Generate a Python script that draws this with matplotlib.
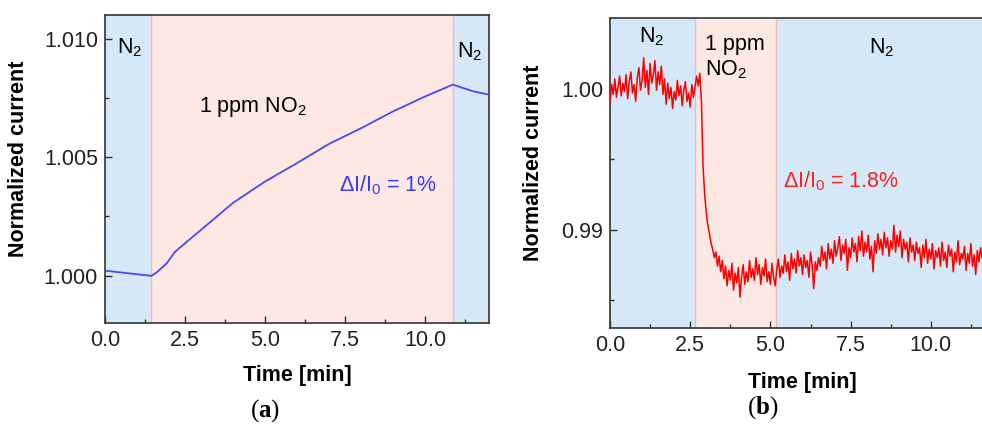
import numpy as np
import matplotlib
matplotlib.use("Agg")
import matplotlib.pyplot as plt

plt.rcParams['font.family'] = ['Liberation Sans', 'DejaVu Sans']
plt.rcParams['mathtext.fontset'] = 'custom'
plt.rcParams['mathtext.rm'] = 'Liberation Sans'
plt.rcParams['mathtext.it'] = 'Liberation Sans:italic'
plt.rcParams['mathtext.bf'] = 'Liberation Serif:bold'

# panel (a): current rises under NO2
time_a = [0.0, 1.45, 1.61, 1.93, 2.19, 3.0, 4.0, 5.0, 6.0, 7.0, 8.0, 9.0, 10.0, 10.87, 11.5, 12.0]
current_a = [1.00021, 0.99999, 1.00013, 1.00052, 1.00101, 1.00193, 1.00307, 1.00397,
             1.00475, 1.00556, 1.00622, 1.00693, 1.00756, 1.00806, 1.00778, 1.00764]
phases_a = [(0.0, 1.45, "N2"), (1.45, 10.87, "NO2"), (10.87, 12.0, "N2")]

# panel (b): current drops under NO2 (read every 0.05 min)
current_b = [
    0.9990, 1.0003, 0.9996, 1.0007, 0.9994, 1.0001, 1.0009, 0.9995, 1.0004, 0.9998,
    1.0010, 0.9993, 1.0005, 1.0012, 0.9997, 1.0003, 0.9991, 1.0008, 1.0015, 0.9999,
    1.0006, 1.0022, 1.0001, 1.0013, 0.9996, 1.0018, 1.0004, 1.0010, 1.0020, 0.9999,
    1.0012, 1.0003, 1.0016, 0.9996, 1.0007, 0.9989, 1.0004, 0.9993, 1.0001, 0.9986,
    0.9998, 0.9992, 1.0006, 0.9995, 1.0002, 0.9988, 0.9999, 1.0005, 0.9991, 0.9997,
    0.9987, 1.0003, 0.9994, 1.0001, 1.0009, 1.0002, 1.0011, 0.9990, 0.9945, 0.9925,
    0.9912, 0.9903, 0.9897, 0.9890, 0.9886, 0.9880, 0.9884, 0.9874, 0.9881, 0.9870,
    0.9878, 0.9865, 0.9874, 0.9860, 0.9871, 0.9864, 0.9876, 0.9857, 0.9869, 0.9862,
    0.9873, 0.9852, 0.9866, 0.9875, 0.9861, 0.9870, 0.9863, 0.9878, 0.9866, 0.9872,
    0.9864, 0.9880, 0.9868, 0.9875, 0.9861, 0.9873, 0.9867, 0.9879, 0.9863, 0.9870,
    0.9861, 0.9876, 0.9866, 0.9860, 0.9872, 0.9879, 0.9866, 0.9874, 0.9869, 0.9882,
    0.9870, 0.9877, 0.9864, 0.9883, 0.9872, 0.9879, 0.9869, 0.9885, 0.9874, 0.9880,
    0.9868, 0.9882, 0.9873, 0.9878, 0.9866, 0.9884, 0.9875, 0.9858, 0.9877, 0.9871,
    0.9880, 0.9874, 0.9888, 0.9878, 0.9884, 0.9872, 0.9890, 0.9879, 0.9886, 0.9876,
    0.9892, 0.9881, 0.9887, 0.9895, 0.9878, 0.9889, 0.9883, 0.9893, 0.9871, 0.9887,
    0.9880, 0.9894, 0.9884, 0.9890, 0.9877, 0.9895, 0.9885, 0.9899, 0.9881, 0.9891,
    0.9884, 0.9896, 0.9879, 0.9888, 0.9870, 0.9892, 0.9883, 0.9897, 0.9886, 0.9893,
    0.9882, 0.9898, 0.9887, 0.9894, 0.9881, 0.9892, 0.9886, 0.9903, 0.9884, 0.9896,
    0.9888, 0.9899, 0.9880, 0.9893, 0.9886, 0.9891, 0.9877, 0.9894, 0.9884, 0.9889,
    0.9878, 0.9891, 0.9883, 0.9887, 0.9873, 0.9889, 0.9880, 0.9893, 0.9876, 0.9886,
    0.9879, 0.9890, 0.9872, 0.9885, 0.9880, 0.9887, 0.9874, 0.9891, 0.9878, 0.9884,
    0.9873, 0.9889, 0.9881, 0.9886, 0.9870, 0.9884, 0.9877, 0.9892, 0.9875, 0.9883,
    0.9879, 0.9888, 0.9871, 0.9883, 0.9876, 0.9890, 0.9874, 0.9882, 0.9868, 0.9885,
    0.9877, 0.9887, 0.9880,
]
time_b = np.round(np.arange(len(current_b)) * 0.05, 2)
phases_b = [(0.0, 2.65, "N2"), (2.65, 5.16, "NO2"), (5.16, 12.0, "N2")]

N2_COLOR = "#d5e8f7"
NO2_COLOR = "#fde8e4"
EDGE = "#f3b9b9"
FS = 15.5

fig = plt.figure(figsize=(9.82, 4.28), dpi=100)
ax_a = fig.add_axes([0.1069, 0.2453, 0.3911, 0.7197])
ax_b = fig.add_axes([0.6212, 0.2336, 0.3920, 0.7234])


def shade(ax, phases):
    for start, end, gas in phases:
        ax.axvspan(start, end, color=N2_COLOR if gas == "N2" else NO2_COLOR, lw=0, zorder=0)
    for start, end, gas in phases[1:]:
        ax.axvline(start, color=EDGE, lw=1.0, zorder=1)


def style(ax, xlab_y, ylab_x):
    ax.tick_params(axis='both', which='major', direction='in', length=5, width=1,
                   labelsize=FS, pad=5, colors='#333333', labelcolor='#222222')
    ax.tick_params(axis='both', which='minor', direction='in', length=3, width=1, colors='#333333')
    for s in ax.spines.values():
        s.set_color('#333333')
        s.set_linewidth(1.2)
    ax.set_xlabel("Time [min]", fontsize=FS, fontweight='bold')
    ax.set_ylabel("Normalized current", fontsize=FS, fontweight='bold')
    ax.xaxis.set_label_coords(0.5, xlab_y)
    ax.yaxis.set_label_coords(ylab_x, 0.532)


# (a)
shade(ax_a, phases_a)
ax_a.plot(time_a, current_a, color="#4848ff", lw=1.3, zorder=3)
ax_a.set_xlim(0, 12)
ax_a.set_ylim(0.998, 1.011)
ax_a.set_xticks([0, 2.5, 5, 7.5, 10])
ax_a.set_xticks([1.25, 3.75, 6.25, 8.75, 11.25], minor=True)
ax_a.set_yticks([1.000, 1.005, 1.010])
ax_a.set_yticks([1.0025, 1.0075], minor=True)
ax_a.set_xticklabels(["0.0", "2.5", "5.0", "7.5", "10.0"])
ax_a.set_yticklabels(["1.000", "1.005", "1.010"])
style(ax_a, -0.136, -0.198)
ax_a.text(0.78, 1.0096, r"N$_2$", fontsize=FS, ha='center', va='center')
ax_a.text(11.4, 1.00945, r"N$_2$", fontsize=FS, ha='center', va='center')
ax_a.text(4.63, 1.00713, r"1 ppm NO$_2$", fontsize=FS, ha='center', va='center')
ax_a.text(8.85, 1.00383, r"ΔI/I$_0$ = 1%", fontsize=FS, ha='center', va='center', color="#3a3aff")

# (b)
shade(ax_b, phases_b)
ax_b.plot(time_b, current_b, color="#ff0000", lw=1.1, zorder=3)
ax_b.set_xlim(0, 12)
ax_b.set_ylim(0.983, 1.005)
ax_b.set_xticks([0, 2.5, 5, 7.5, 10])
ax_b.set_xticks([1.25, 3.75, 6.25, 8.75, 11.25], minor=True)
ax_b.set_yticks([0.99, 1.00])
ax_b.set_yticks([0.985, 0.995], minor=True)
ax_b.set_xticklabels(["0.0", "2.5", "5.0", "7.5", "10.0"])
ax_b.set_yticklabels(["0.99", "1.00"])
style(ax_b, -0.142, -0.171)
ax_b.text(1.31, 1.0037, r"N$_2$", fontsize=FS, ha='center', va='center')
ax_b.text(8.47, 1.0029, r"N$_2$", fontsize=FS, ha='center', va='center')
ax_b.text(2.96, 1.0022, "1 ppm\n" + r"NO$_2$", fontsize=FS, ha='left', va='center', linespacing=1.2)
ax_b.text(7.2, 0.99342, r"ΔI/I$_0$ = 1.8%", fontsize=FS, ha='center', va='center', color="#ff2020")

for x, y, letter in [(265 / 982, 411, "a"), (763 / 982, 408, "b")]:
    fig.text(x, 1 - y / 428, "(" + r"$\mathbf{" + letter + "}$" + ")", fontsize=18,
             family='Liberation Serif', ha='center', va='center')

fig.savefig("out.png", dpi=100)
